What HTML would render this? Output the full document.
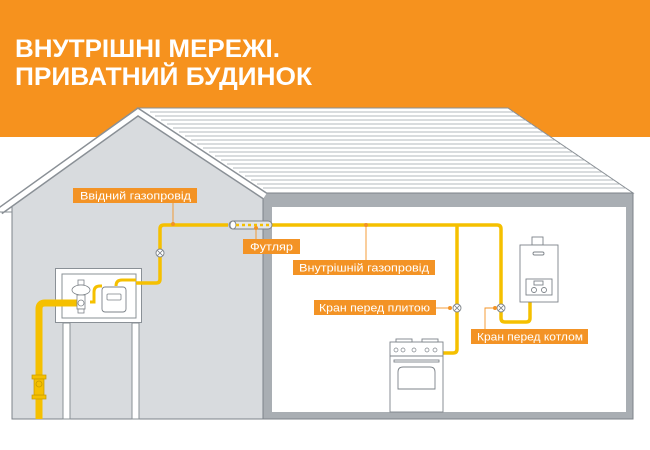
<!DOCTYPE html>
<html><head><meta charset="utf-8"><style>
html,body{margin:0;padding:0;background:#fff;}
svg{display:block;}
text{font-family:"Liberation Sans","DejaVu Sans",sans-serif;}
</style></head><body>
<svg width="650" height="450" viewBox="0 0 650 450" xmlns="http://www.w3.org/2000/svg">
<rect x="0" y="0" width="650" height="137" fill="#f6921e"/>
<text x="15" y="57" font-size="25" font-weight="bold" fill="#fff" textLength="265" lengthAdjust="spacingAndGlyphs">ВНУТРІШНІ МЕРЕЖІ.</text>
<text x="15" y="85" font-size="25" font-weight="bold" fill="#fff" textLength="297" lengthAdjust="spacingAndGlyphs">ПРИВАТНИЙ БУДИНОК</text>

<!-- main striped roof -->
<polygon points="138,108 508,108 633,193 263,193" fill="#fff" stroke="#8a9096" stroke-width="1"/>
<g stroke="#9aa0a6" stroke-width="0.8">
<line x1="150" y1="112" x2="514" y2="112"/><line x1="155" y1="116" x2="520" y2="116"/>
<line x1="161" y1="120" x2="526" y2="120"/><line x1="167" y1="124" x2="532" y2="124"/>
<line x1="173" y1="128" x2="538" y2="128"/><line x1="179" y1="132" x2="543" y2="132"/>
<line x1="185" y1="136" x2="549" y2="136"/><line x1="191" y1="140" x2="555" y2="140"/>
<line x1="197" y1="144" x2="561" y2="144"/><line x1="203" y1="148" x2="567" y2="148"/>
<line x1="209" y1="152" x2="573" y2="152"/><line x1="215" y1="156" x2="579" y2="156"/>
<line x1="221" y1="160" x2="585" y2="160"/><line x1="227" y1="164" x2="591" y2="164"/>
<line x1="233" y1="168" x2="596" y2="168"/><line x1="239" y1="172" x2="602" y2="172"/>
<line x1="245" y1="176" x2="608" y2="176"/><line x1="251" y1="180" x2="614" y2="180"/>
<line x1="257" y1="184" x2="620" y2="184"/><line x1="263" y1="188" x2="626" y2="188"/>
</g>
<!-- right building -->
<rect x="263" y="193" width="370" height="226" fill="#a9aeb3" stroke="#7d8389" stroke-width="1"/>
<rect x="272" y="207" width="354" height="205" fill="#fff"/>

<!-- gable -->
<polygon points="12,205 138,114 263,195 263,419 12,419" fill="#d8dbde" stroke="#7d8389" stroke-width="1"/>
<polyline points="0,211 138,112 265,196" fill="none" stroke="#8a9096" stroke-width="8"/>
<polyline points="0,211 138,112 265,196" fill="none" stroke="#fff" stroke-width="5"/>
<line x1="0" y1="212" x2="12" y2="212" stroke="#8a9096" stroke-width="1"/>

<!-- posts -->
<rect x="63" y="323" width="7" height="96" fill="#fff" stroke="#8a9096" stroke-width="1"/>
<rect x="132" y="323" width="7" height="96" fill="#fff" stroke="#8a9096" stroke-width="1"/>
<!-- meter box -->
<rect x="55.5" y="268.5" width="86" height="54" fill="#fff" stroke="#8a9096" stroke-width="1"/>
<rect x="62" y="274" width="74" height="44" fill="#fff" stroke="#8a9096" stroke-width="1"/>

<!-- left vertical pipe -->
<path d="M39,419 V309 Q39,303 45,303 H80" fill="none" stroke="#f5c000" stroke-width="7"/>
<path d="M36,419 V360 L38,345 H40 L42,360 V419Z" fill="#f5c000"/>
<rect x="32" y="375" width="14" height="4" fill="#f5c000" stroke="#c79a00" stroke-width="0.7"/>
<rect x="32" y="395" width="14" height="4" fill="#f5c000" stroke="#c79a00" stroke-width="0.7"/>
<rect x="34" y="379" width="10" height="16" fill="#f5c000" stroke="#c79a00" stroke-width="0.7"/>
<circle cx="39" cy="384" r="3" fill="none" stroke="#c79a00" stroke-width="0.8"/>

<!-- regulator -->
<g stroke="#7d8389" stroke-width="0.8" fill="#fff">
<rect x="78" y="280" width="6" height="5"/>
<ellipse cx="81" cy="290" rx="9" ry="5"/>
<rect x="77" y="295" width="8" height="14"/>
<circle cx="81" cy="303" r="3"/>
<rect x="78" y="309" width="6" height="4"/>
</g>
<path d="M90,302 H94 V292 Q94,286 100,286 H102" fill="none" stroke="#f5c000" stroke-width="3"/>
<path d="M116,286 Q116,280 122,280 H136" fill="none" stroke="#f5c000" stroke-width="3"/>
<!-- meter -->
<rect x="102" y="287" width="24" height="25" rx="3" fill="#fff" stroke="#7d8389" stroke-width="0.9"/>
<rect x="107" y="294" width="14" height="6" rx="1" fill="#fff" stroke="#7d8389" stroke-width="0.8"/>

<!-- main pipe -->
<path d="M136,283 H156 Q160,283 160,279 V229 Q160,225 164,225 H228" fill="none" stroke="#f5c000" stroke-width="3.5"/>
<path d="M272,225 H497 Q501,225 501,229 V318 Q501,322 505,322 H526 Q530,322 530,318 V302" fill="none" stroke="#f5c000" stroke-width="3.5"/>
<path d="M457,225 V349 Q457,353 453,353 H443" fill="none" stroke="#f5c000" stroke-width="3.5"/>
<!-- sleeve -->
<rect x="229" y="221" width="43" height="8" rx="4" fill="#e4e6e8" stroke="#7d8389" stroke-width="0.9"/>
<ellipse cx="233" cy="225" rx="3" ry="4" fill="#fff" stroke="#7d8389" stroke-width="0.9"/>
<line x1="236" y1="225" x2="272" y2="225" stroke="#f5c000" stroke-width="2.5" stroke-dasharray="3,3"/>

<!-- valves -->
<g fill="#fff" stroke="#7d8389" stroke-width="0.9">
<circle cx="160" cy="253" r="4"/><circle cx="457" cy="308" r="4"/><circle cx="501" cy="308" r="4"/>
</g>
<g stroke="#7d8389" stroke-width="0.8">
<path d="M157.2,250.2 l5.6,5.6 M162.8,250.2 l-5.6,5.6"/>
<path d="M454.2,305.2 l5.6,5.6 M459.8,305.2 l-5.6,5.6"/>
<path d="M498.2,305.2 l5.6,5.6 M503.8,305.2 l-5.6,5.6"/>
</g>

<!-- stove -->
<g fill="#fff" stroke="#7d8389" stroke-width="0.9">
<rect x="390" y="342" width="53" height="70"/>
<rect x="396" y="339" width="16" height="3"/><rect x="422" y="339" width="16" height="3"/>
<line x1="390" y1="356" x2="443" y2="356"/>
<rect x="394" y="360" width="45" height="2"/>
<path d="M398,389 V372 Q398,367 403,367 H430 Q435,367 435,372 V389 Z"/>
</g>
<g fill="none" stroke="#7d8389" stroke-width="0.7">
<circle cx="396" cy="350" r="2"/><circle cx="403" cy="350" r="2"/><circle cx="414" cy="350" r="2"/><circle cx="427" cy="350" r="2"/><circle cx="435" cy="350" r="2"/>
</g>
<!-- boiler -->
<g fill="#fff" stroke="#7d8389" stroke-width="0.9">
<rect x="532" y="237" width="11" height="8"/>
<rect x="520" y="245" width="38" height="57"/>
<rect x="533" y="252" width="11" height="3" rx="1.5"/>
<rect x="526" y="279" width="26" height="16"/>
<rect x="534" y="281" width="9" height="4"/>
<circle cx="534" cy="290" r="2.5"/><circle cx="544" cy="290" r="2.5"/>
</g>

<!-- leaders -->
<g stroke="#f39325" stroke-width="0.9" fill="none">
<line x1="173" y1="202" x2="173" y2="224"/>
<line x1="256" y1="228" x2="256" y2="240"/>
<line x1="366" y1="225" x2="366" y2="260"/>
<line x1="436" y1="308" x2="452" y2="308"/>
<polyline points="485,330 485,308 496,308"/>
</g>
<g fill="#f39325">
<circle cx="173" cy="224" r="2"/><circle cx="256" cy="228" r="2"/><circle cx="366" cy="225" r="2"/>
<circle cx="450" cy="308" r="2"/><circle cx="495" cy="308" r="2"/>
</g>
<!-- labels -->
<g fill="#f39325">
<rect x="73" y="188" width="124" height="15"/>
<rect x="243" y="239" width="57" height="15"/>
<rect x="293" y="260" width="142" height="15"/>
<rect x="314" y="300" width="122" height="15"/>
<rect x="471" y="329" width="117" height="15"/>
</g>
<g fill="#fff" font-size="11">
<text x="80" y="199.5" textLength="111" lengthAdjust="spacingAndGlyphs">Ввідний газопровід</text>
<text x="250" y="250.5" textLength="43" lengthAdjust="spacingAndGlyphs">Футляр</text>
<text x="299" y="271.5" textLength="130" lengthAdjust="spacingAndGlyphs">Внутрішній газопровід</text>
<text x="319" y="311.5" textLength="111" lengthAdjust="spacingAndGlyphs">Кран перед плитою</text>
<text x="477" y="340.5" textLength="106" lengthAdjust="spacingAndGlyphs">Кран перед котлом</text>
</g>
</svg>
</body></html>
